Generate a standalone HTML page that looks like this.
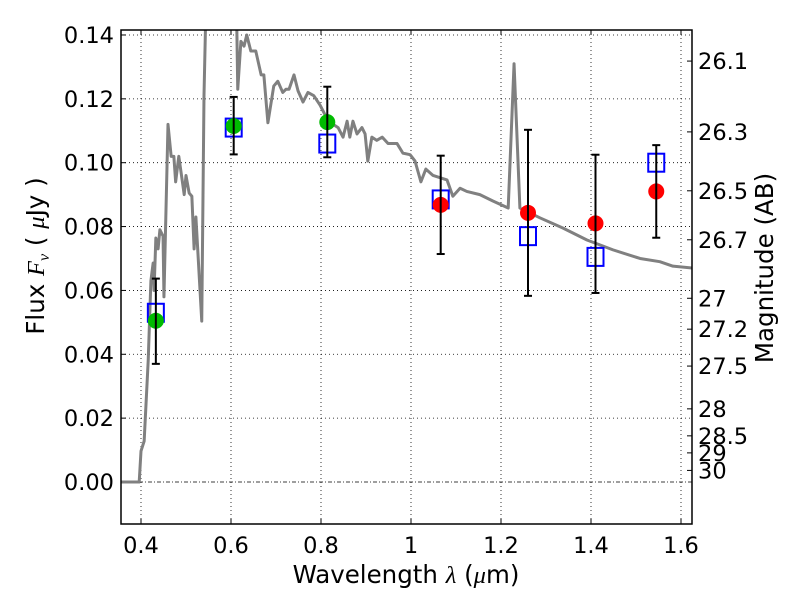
<!DOCTYPE html>
<html><head><meta charset="utf-8"><style>
body{margin:0;background:#fff}
svg text{font-family:"DejaVu Sans","Liberation Sans",sans-serif;fill:#000}
</style></head><body>
<svg id="c" width="800" height="600" viewBox="0 0 800 600"></svg>
<script>
const specLam=[0.355,0.396,0.4,0.407,0.416,0.422,0.427,0.429,0.433,0.438,0.442,0.449,0.451,0.46,0.467,0.473,0.477,0.484,0.496,0.5,0.507,0.513,0.518,0.522,0.535,0.54,0.546,0.6,0.611,0.615,0.622,0.629,0.635,0.644,0.655,0.667,0.673,0.682,0.695,0.704,0.715,0.722,0.729,0.74,0.749,0.76,0.771,0.784,0.798,0.809,0.827,0.838,0.849,0.858,0.864,0.871,0.88,0.891,0.898,0.904,0.913,0.924,0.936,0.949,0.969,0.982,0.998,1.009,1.022,1.033,1.049,1.08,1.093,1.109,1.124,1.153,1.182,1.216,1.229,1.242,1.287,1.338,1.391,1.449,1.509,1.553,1.582,1.627];
const specFlux=[0,0,0.0097,0.0128,0.038,0.063,0.0686,0.060,0.0764,0.073,0.079,0.077,0.058,0.112,0.102,0.102,0.094,0.102,0.090,0.096,0.0905,0.0895,0.073,0.083,0.0504,0.121,0.16,0.16,0.16,0.123,0.138,0.1365,0.14,0.135,0.135,0.1275,0.1275,0.1125,0.124,0.1255,0.122,0.123,0.123,0.1275,0.1225,0.119,0.122,0.121,0.118,0.115,0.112,0.111,0.108,0.113,0.108,0.113,0.109,0.111,0.109,0.1005,0.108,0.107,0.108,0.106,0.106,0.103,0.1025,0.1005,0.094,0.098,0.096,0.0946,0.0895,0.092,0.091,0.090,0.088,0.0858,0.131,0.0858,0.0827,0.0795,0.0758,0.0727,0.070,0.069,0.0676,0.067];
const greenLam=[0.433,0.606,0.814];
const greenFlux=[0.0505,0.1115,0.1127];
const redLam=[1.066,1.26,1.41,1.545];
const redFlux=[0.0868,0.0843,0.081,0.091];
const boxLam=[0.433,0.606,0.814,1.066,1.26,1.41,1.545];
const boxFlux=[0.053,0.111,0.106,0.0885,0.077,0.0705,0.1];
const errLo=[0.037,0.1026,0.1017,0.0714,0.0583,0.0592,0.0765];
const errHi=[0.0637,0.1206,0.1238,0.1022,0.1103,0.1025,0.1055];
const xTicks=[0.4,0.6,0.8,1.0,1.2,1.4,1.6];
const xTickLabels=["0.4","0.6","0.8","1","1.2","1.4","1.6"];
const yTicks=[0,0.02,0.04,0.06,0.08,0.1,0.12,0.14];
const yTickLabels=["0.00","0.02","0.04","0.06","0.08","0.10","0.12","0.14"];
const magTicks=[26.1,26.3,26.5,26.7,27,27.2,27.5,28,28.5,29,30];

const L=121,R=692,T=30,B=524;
const X=v=>141+(v-0.4)*450;
const Y=v=>482-v*3193;
const svg=document.getElementById('c');
const NS='http://www.w3.org/2000/svg';
function mk(tag,attrs,parent){const e=document.createElementNS(NS,tag);for(const k in attrs)e.setAttribute(k,attrs[k]);(parent||svg).appendChild(e);return e;}
const defs=mk('defs',{});
const cp=mk('clipPath',{id:'clip'},defs);
mk('rect',{x:L,y:T,width:R-L,height:B-T},cp);

xTicks.forEach((t,i)=>{
  const g=mk('line',{x1:X(t),x2:X(t),y1:T,y2:B,stroke:'#000','stroke-width':0.8,'stroke-dasharray':'1,3'});
  
  
  const tk=mk('line',{x1:X(t),x2:X(t),y1:B,y2:B-5,stroke:'#000'});
  
  
  mk('line',{x1:X(t),x2:X(t),y1:T,y2:T+5,stroke:'#000'});
  const tx=mk('text',{x:X(t),y:B+29,'text-anchor':'middle','font-size':22.5});
  tx.textContent=xTickLabels[i];
  
  
});
yTicks.forEach((t,i)=>{
  if(t===0){
    const z=mk('line',{x1:L,x2:R,y1:Y(t),y2:Y(t),stroke:'#000','stroke-width':0.8,'stroke-dasharray':'4,2,1,2'});
    
    
  } else {
    const g=mk('line',{x1:L,x2:R,y1:Y(t),y2:Y(t),stroke:'#000','stroke-width':0.8,'stroke-dasharray':'1,3'});
    
    
  }
  mk('line',{x1:L,x2:L+5,y1:Y(t),y2:Y(t),stroke:'#000'});
  const tx=mk('text',{x:L-7,y:Y(t)+8,'text-anchor':'end','font-size':22.5});
  tx.textContent=yTickLabels[i];
  
  
});
magTicks.forEach(m=>{
  const f=Math.pow(10,(23.9-m)/2.5);
  const y=Y(f);
  mk('line',{x1:R,x2:R-5,y1:y,y2:y,stroke:'#000'});
  const tx=mk('text',{x:R+6,y:y+8,'font-size':22.5});
  tx.textContent=String(m);
  
  
});

const pl=mk('polyline',{points:specLam.map((l,i)=>X(l)+','+Y(specFlux[i])).join(' '),fill:'none',stroke:'#808080','stroke-width':3,'clip-path':'url(#clip)','stroke-linejoin':'round'});



boxLam.forEach((l,i)=>{
  const r=mk('rect',{x:X(l)-8,y:Y(boxFlux[i])-9,width:16,height:18,fill:'none',stroke:'#0000ff','stroke-width':2});
  
  
});
greenLam.forEach((l,i)=>{
  const c=mk('circle',{cx:X(l),cy:Y(greenFlux[i]),r:8,fill:'#00bb00'});
  
  
});
redLam.forEach((l,i)=>{
  const c=mk('circle',{cx:X(l),cy:Y(redFlux[i]),r:8,fill:'#ff0000'});
  
  
});
boxLam.forEach((l,i)=>{
  const g=mk('g',{stroke:'#000','stroke-width':2});
  
  
  mk('line',{x1:X(l),x2:X(l),y1:Y(errLo[i]),y2:Y(errHi[i])},g);
  mk('line',{x1:X(l)-4,x2:X(l)+4,y1:Y(errLo[i]),y2:Y(errLo[i])},g);
  mk('line',{x1:X(l)-4,x2:X(l)+4,y1:Y(errHi[i]),y2:Y(errHi[i])},g);
});

const fr=mk('rect',{x:L,y:T,width:R-L,height:B-T,fill:'none',stroke:'#000','stroke-width':1.5});


</script>
<svg style="position:absolute;left:0;top:0" width="800" height="600">
<text x="406" y="583" text-anchor="middle" font-size="24.5">Wavelength  <tspan font-family="Liberation Serif" font-style="italic">λ</tspan> (<tspan font-family="Liberation Serif" font-style="italic">μ</tspan>m)</text>
<text transform="translate(44,256) rotate(-90)" text-anchor="middle" font-size="24.5">Flux  <tspan font-family="Liberation Serif" font-style="italic">F<tspan font-size="16" dy="5">ν</tspan></tspan><tspan dy="-5">  (  </tspan><tspan font-family="Liberation Serif" font-style="italic">μ</tspan>Jy )</text>
<text transform="translate(773,268) rotate(-90)" text-anchor="middle" font-size="24.5">Magnitude (AB)</text>
</svg>
</body></html>
